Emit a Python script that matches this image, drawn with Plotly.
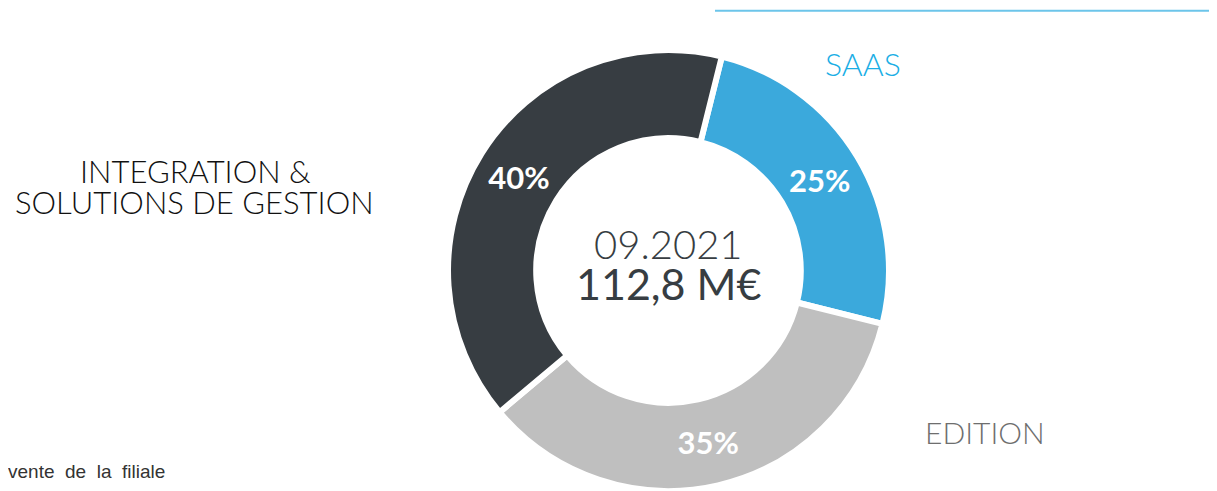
import plotly.graph_objects as go

# Data
segments = ["SAAS", "EDITION", "INTEGRATION & SOLUTIONS DE GESTION"]
shares = [25, 35, 40]
pct_labels = ["25%", "35%", "40%"]
seg_colors = ["#3BA9DC", "#BFBFBF", "#373D42"]

period = "09.2021"
total = "112,8 M€"

# page body has an 8px margin, so the figure is 8px smaller than the window
W, H = 1209, 483

fig = go.Figure()

fig.add_trace(go.Pie(
    labels=segments, values=shares, text=pct_labels,
    textinfo="text", textposition="inside", insidetextorientation="horizontal",
    textfont=dict(family="Lato, sans-serif", size=31, color="white", weight="bold"),
    marker=dict(colors=seg_colors, line=dict(color="white", width=6)),
    hole=0.6, sort=False, direction="clockwise", rotation=14,
    domain=dict(x=[440 / W, 881 / W], y=[0.0, 0.913]),
    showlegend=False,
))

# Center text
fig.add_annotation(x=0.5463, y=0.5114, xref="paper", yref="paper", text=period,
                   yanchor="middle", showarrow=False,
                   font=dict(family="Lato", size=40, color="#373D42", weight=300))
fig.add_annotation(x=0.5463, y=0.4296, xref="paper", yref="paper", text=total,
                   yanchor="middle", showarrow=False,
                   font=dict(family="Lato", size=43, color="#373D42"))

# Outside labels
fig.add_annotation(x=0.7068, y=0.8841, xref="paper", yref="paper", text="SAAS",
                   xanchor="center", yanchor="middle", showarrow=False,
                   font=dict(family="Lato", size=32, color="#1AAEE5", weight=300))
fig.add_annotation(x=0.1547, y=0.6625, xref="paper", yref="paper", text="INTEGRATION &",
                   xanchor="center", yanchor="middle", showarrow=False,
                   font=dict(family="Lato", size=31, color="#111111", weight=300))
fig.add_annotation(x=0.1539, y=0.5983, xref="paper", yref="paper", text="SOLUTIONS DE GESTION",
                   xanchor="center", yanchor="middle", showarrow=False,
                   font=dict(family="Lato", size=31, color="#111111", weight=300))
fig.add_annotation(x=0.8081, y=0.1222, xref="paper", yref="paper", text="EDITION",
                   xanchor="center", yanchor="middle", showarrow=False,
                   font=dict(family="Lato", size=30, color="#6E6E6E", weight=300))
fig.add_annotation(x=0.1315, y=0.0414, xref="paper", yref="paper",
                   text="vente\u00a0 de\u00a0 la\u00a0 filiale",
                   xanchor="right", yanchor="middle", showarrow=False,
                   font=dict(family="Liberation Sans", size=19, color="#333333"))

# Top rule line
fig.add_shape(type="line", xref="paper", yref="paper", x0=707 / W, x1=1.0, y0=0.9944, y1=0.9944,
              line=dict(color="#6CC5EA", width=2))

fig.update_layout(
    width=W, height=H,
    margin=dict(l=0, r=0, t=0, b=0),
    paper_bgcolor="white", plot_bgcolor="white",
)

fig.write_html("out.html")
